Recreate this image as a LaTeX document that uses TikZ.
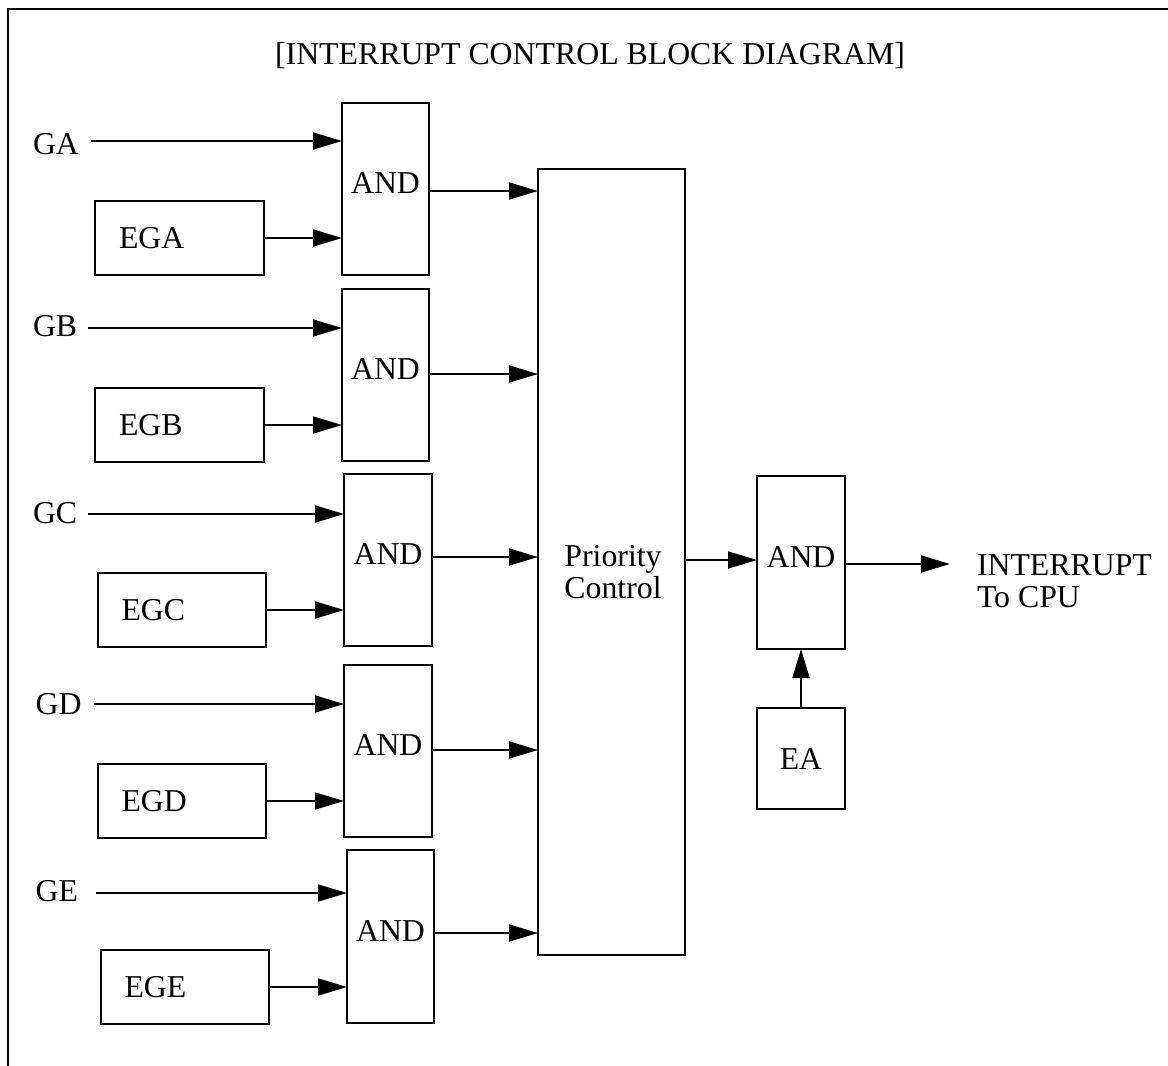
\documentclass[tikz,border=0pt]{standalone}
\usepackage{fontspec}
\setmainfont{Liberation Serif}
\usetikzlibrary{arrows.meta}
\tikzset{
  every node/.style={font=\fontsize{31.8}{32}\selectfont, inner sep=0pt, outer sep=0pt},
  blk/.style={draw, line width=1.8pt, anchor=north west},
  andblk/.style={blk, minimum width=87pt, minimum height=172pt, text depth=12pt},
  egblk/.style={blk, minimum width=168pt, minimum height=74pt},
  arr/.style={line width=1.8pt, -{Triangle[length=29pt,width=17pt]}},
  lbl/.style={anchor=west},
  frame/.style={line width=2.2pt}
}
\newcommand{\eglabel}[1]{\makebox[121pt][l]{#1}}
\begin{document}
\begin{tikzpicture}[x=1pt,y=-1pt]
\useasboundingbox (0,0) rectangle (1168,1066);
% frame
\draw[frame] (8,1066) -- (8,9) -- (1168,9);
% title
\node[anchor=base] (title) at (590,64) {[INTERRUPT CONTROL BLOCK DIAGRAM]};

% AND gates
\node[andblk] (andA) at (342,103) {AND};
\node[andblk] (andB) at (342,289) {AND};
\node[andblk, minimum width=88pt] (andC) at (344,474) {AND};
\node[andblk, minimum width=88pt] (andD) at (344,665) {AND};
\node[andblk, minimum height=173pt] (andE) at (347,850) {AND};

% enable boxes
\node[egblk, minimum width=169pt] (ega) at (95,201) {\eglabel{EGA}};
\node[egblk, minimum width=169pt] (egb) at (95,388) {\eglabel{EGB}};
\node[egblk] (egc) at (98,573) {\eglabel{EGC}};
\node[egblk] (egd) at (98,764) {\eglabel{EGD}};
\node[egblk] (ege) at (101,950) {\eglabel{EGE}};

% priority control
\node[blk, minimum width=147pt, minimum height=786pt] (prio) at (538,169) {};
\node[align=center] (prioT) at (613,572.5) {Priority\\Control};

% final AND and EA
\node[andblk, minimum width=88pt, minimum height=173pt, text depth=11pt] (andF) at (757,476) {AND};
\node[blk, minimum width=88pt, minimum height=101pt] (ea) at (757,708) {EA};

% input labels
\node[lbl] (ga) at (33,144) {GA};
\node[lbl] (gb) at (33,326) {GB};
\node[lbl] (gc) at (33,513) {GC};
\node[lbl] (gd) at (35.7,704.5) {GD};
\node[lbl] (ge) at (35.7,891) {GE};

% input line starts
\coordinate (gaS) at (91,141);
\coordinate (gbS) at (88,328);
\coordinate (gcS) at (88,514);
\coordinate (gdS) at (94,704);
\coordinate (geS) at (96,893);

\draw[arr] (gaS) -- (gaS -| andA.west);
\draw[arr] (gbS) -- (gbS -| andB.west);
\draw[arr] (gcS) -- (gcS -| andC.west);
\draw[arr] (gdS) -- (gdS -| andD.west);
\draw[arr] (geS) -- (geS -| andE.west);

\draw[arr] (ega.east) -- (ega.east -| andA.west);
\draw[arr] (egb.east) -- (egb.east -| andB.west);
\draw[arr] (egc.east) -- (egc.east -| andC.west);
\draw[arr] (egd.east) -- (egd.east -| andD.west);
\draw[arr] (ege.east) -- (ege.east -| andE.west);

% AND outputs to priority
\coordinate (oA) at (429,191);
\coordinate (oB) at (429,374);
\coordinate (oC) at (432,557);
\coordinate (oD) at (432,750);
\coordinate (oE) at (434,933);
\draw[arr] (oA) -- (oA -| prio.west);
\draw[arr] (oB) -- (oB -| prio.west);
\draw[arr] (oC) -- (oC -| prio.west);
\draw[arr] (oD) -- (oD -| prio.west);
\draw[arr] (oE) -- (oE -| prio.west);

% priority to final AND
\coordinate (pin) at (685,560);
\draw[arr] (pin) -- (pin -| andF.west);
% EA to final AND
\draw[arr] (ea.north) -- (andF.south);
% output
\coordinate (fout) at (845,564);
\coordinate (intTip) at (950,564);
\draw[arr] (fout) -- (intTip);
\node[align=left, anchor=west] (intT) at (977,581) {INTERRUPT\\To CPU};
\end{tikzpicture}
\end{document}
